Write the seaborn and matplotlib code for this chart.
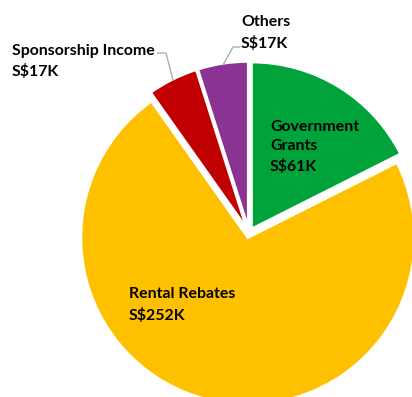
import matplotlib
matplotlib.use("Agg")
import matplotlib.pyplot as plt
import seaborn as sns

# Income sources (S$ thousands)
categories = ["Government\nGrants", "Rental Rebates", "Sponsorship Income", "Others"]
values = [61, 252, 17, 17]
value_labels = ["S$61K", "S$252K", "S$17K", "S$17K"]
colors = ["#00A33A", "#FFC000", "#C00000", "#8B3393"]

sns.set_theme(style="white")
plt.rcParams["font.family"] = ["Lato", "DejaVu Sans"]

fig = plt.figure(figsize=(4.12, 3.97), dpi=100)
ax = fig.add_axes([0, 0, 1, 1])

ax.pie(values, colors=colors, startangle=90, counterclock=False,
       explode=[0.028] * len(values), radius=1.0,
       wedgeprops=dict(edgecolor="white", linewidth=2.0))

# Centre at pixel (249, 233), 167 px per unit radius
S = 167.0
cx, cy = 249.0, 233.0
ax.set_xlim(-cx / S, (412 - cx) / S)
ax.set_ylim(-(397 - cy) / S, cy / S)
ax.set_aspect("auto")
ax.axis("off")


def px(x, y):
    return (x - cx) / S, (cy - y) / S


font = dict(fontsize=11.4, fontweight="bold", color="black", ha="left",
            va="center", linespacing=1.5)

# Labels inside slices
ax.text(*px(270, 147), f"{categories[0]}\n{value_labels[0]}", **font)
ax.text(*px(129, 305), f"{categories[1]}\n{value_labels[1]}", **font)

# Outside labels with leader lines
ax.text(*px(12, 61), f"{categories[2]}\n{value_labels[2]}", **font)
ax.text(*px(241, 33), f"{categories[3]}\n{value_labels[3]}", **font)

lc = "#A6A6A6"
for pts in ([(157, 53), (166, 53), (173, 80)], [(240, 47), (233, 47), (223, 65)]):
    xs, ys = zip(*[px(a, b) for a, b in pts])
    ax.plot(xs, ys, color=lc, linewidth=0.9)

fig.savefig("out.png", dpi=100)
